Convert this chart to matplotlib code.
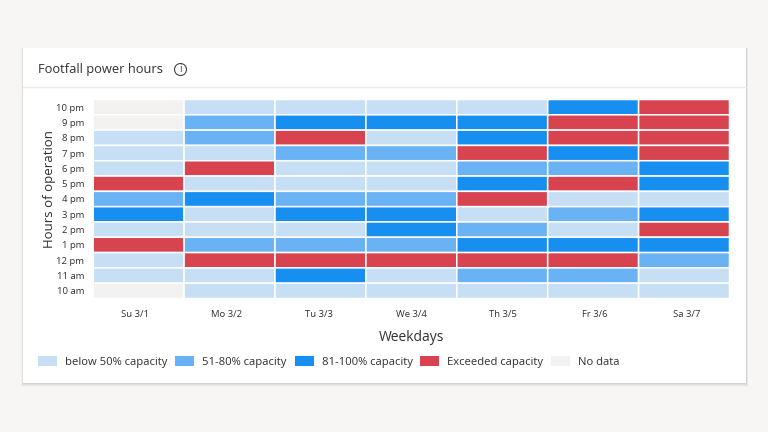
import numpy as np
import matplotlib.pyplot as plt
from matplotlib.colors import ListedColormap
from matplotlib.patches import Patch, Rectangle, Circle

plt.rcParams['font.family'] = ['Open Sans', 'DejaVu Sans']

hours = ['10 pm', '9 pm', '8 pm', '7 pm', '6 pm', '5 pm', '4 pm', '3 pm',
         '2 pm', '1 pm', '12 pm', '11 am', '10 am']
days = ['Su 3/1', 'Mo 3/2', 'Tu 3/3', 'We 3/4', 'Th 3/5', 'Fr 3/6', 'Sa 3/7']
levels = ['below 50% capacity', '51-80% capacity', '81-100% capacity',
          'Exceeded capacity', 'No data']
colors = ['#c7dff4', '#69b3f5', '#178ff0', '#d7434f', '#f3f2f1']

# 0 below 50, 1 51-80, 2 81-100, 3 exceeded, 4 no data
su = [4, 4, 0, 0, 0, 3, 1, 2, 0, 3, 0, 0, 4]
mo = [0, 1, 1, 0, 3, 0, 2, 0, 0, 1, 3, 0, 0]
tu = [0, 2, 3, 1, 0, 0, 1, 2, 0, 1, 3, 2, 0]
we = [0, 2, 0, 1, 0, 0, 1, 2, 2, 1, 3, 0, 0]
th = [0, 2, 2, 3, 1, 2, 3, 0, 1, 2, 3, 1, 0]
fr = [2, 3, 3, 2, 1, 3, 0, 1, 0, 2, 3, 1, 0]
sa = [3, 3, 3, 3, 2, 2, 0, 2, 3, 2, 1, 0, 0]
grid = np.array([su, mo, tu, we, th, fr, sa]).T

W, H = 768, 432
fig = plt.figure(figsize=(W / 100, H / 100), dpi=100, facecolor='#f8f6f4')

# card, drawn in pixel coords
bg = fig.add_axes([0, 0, 1, 1])
bg.set_xlim(0, W)
bg.set_ylim(H, 0)
bg.axis('off')
for off, a in [(4, 0.02), (3, 0.03), (2, 0.04), (1, 0.06)]:
    bg.add_patch(Rectangle((23 - off / 2, 48), 723 + off, 335 + off, fc='black', alpha=a, ec='none'))
bg.add_patch(Rectangle((23, 48), 723, 335, fc='white', ec='none'))
bg.plot([23, 746], [87, 87], color='#ebebeb', lw=1)
bg.text(38.5, 70, 'Footfall power hours', fontsize=9.3, color='#323130', va='center')
bg.add_patch(Circle((180.5, 69.5), 6, fc='none', ec='#444444', lw=0.8))
bg.text(180.5, 69.5, 'i', fontsize=7, color='#444444', ha='center', va='center')

ax_l, ax_t, ax_w, ax_h = 93.2, 99.5, 636.3, 199
ax = fig.add_axes([ax_l / W, 1 - (ax_t + ax_h) / H, ax_w / W, ax_h / H])
mesh = ax.pcolormesh(grid, cmap=ListedColormap(colors), vmin=-0.5, vmax=4.5,
                     edgecolors='white', linewidth=1.1, antialiased=True)
mesh.set_snap(False)
ax.invert_yaxis()
# the day labels sit a little wider apart than the columns
ax.set_xticks((135 + 92 * np.arange(len(days)) - ax_l) / (ax_w / len(days)), days)
ax.set_yticks(np.arange(len(hours)) + 0.5, hours)
ax.tick_params(length=0, labelsize=6.8, labelcolor='#323130')
ax.tick_params(axis='x', pad=8.5)
ax.tick_params(axis='y', pad=6.5)
for s in ax.spines.values():
    s.set_visible(False)
ax.set_xlabel('Weekdays', fontsize=10, color='#323130', labelpad=8)
ax.set_ylabel('Hours of operation', fontsize=9.5, color='#323130')
ax.yaxis.set_label_coords((56 - ax_l) / ax_w, (ax_t + ax_h - 189) / ax_h)

handles = [Patch(fc=c, ec='none') for c in colors]
fig.legend(handles, levels, ncol=5, frameon=False, fontsize=8.1,
           labelcolor='#323130', loc='center left',
           bbox_to_anchor=(38 / W, 1 - 362 / H), borderaxespad=0, borderpad=0,
           handlelength=1.7, handleheight=1.05, handletextpad=0.7, columnspacing=0.7)

fig.savefig('out.png', dpi=100, facecolor=fig.get_facecolor())
